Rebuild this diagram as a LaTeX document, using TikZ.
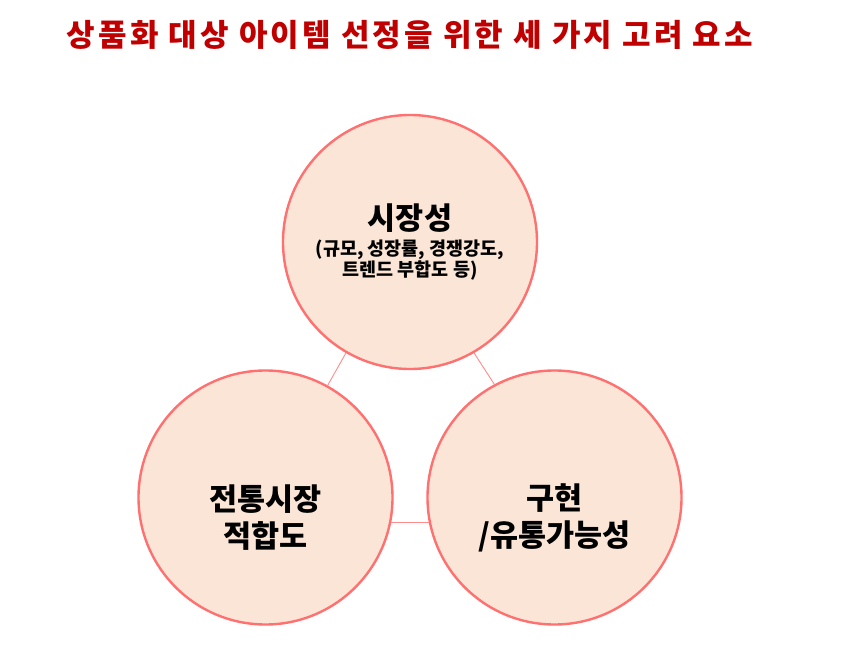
\documentclass[tikz,border=0pt]{standalone}
\usepackage{fontspec}
\setmainfont{Noto Sans CJK KR}
\definecolor{titlered}{RGB}{192,0,0}
\definecolor{circfill}{RGB}{251,229,214}
\definecolor{circline}{RGB}{255,112,112}
\definecolor{connline}{RGB}{255,140,140}
\tikzset{
  circ/.style={circle, draw=circline, fill=circfill, line width=2.4pt, minimum size=254pt, inner sep=0pt},
  conn/.style={draw=connline, line width=0.9pt},
  bigtxt/.style={align=center, text=black, font=\fontsize{30.5}{37}\selectfont\bfseries, inner sep=0pt},
  smalltxt/.style={align=center, text=black, font=\fontsize{18.5}{21}\selectfont\bfseries, inner sep=0pt},
  titletxt/.style={text=titlered, font=\fontsize{31}{34}\selectfont\bfseries\addfontfeatures{LetterSpace=10}, inner sep=0pt}
}
\begin{document}
\begin{tikzpicture}[x=1pt,y=-1pt]
\useasboundingbox (0,0) rectangle (850,655);
\node[titletxt] (title) at (410,35) {상품화 대상 아이템 선정을 위한 세 가지 고려 요소};
\node[circ] (top) at (410,242) {};
\node[circ] (left) at (265.5,497.5) {};
\node[circ] (right) at (554.5,497.5) {};
\draw[conn] (top.240) -- (left.61.5);
\draw[conn] (top.300) -- (right.118.5);
\draw[conn] (left.-11.5) -- (right.191.5);
\node[bigtxt] (t1) at (410,218) {시장성};
\node[smalltxt] (t1s) at (410,260) {(규모, 성장률, 경쟁강도,\\트렌드 부합도 등)};
\node[bigtxt] (t2) at (265.5,518) {전통시장\\적합도};
\node[bigtxt] (t3) at (554.5,518) {구현\\/유통가능성};
\end{tikzpicture}
\end{document}
